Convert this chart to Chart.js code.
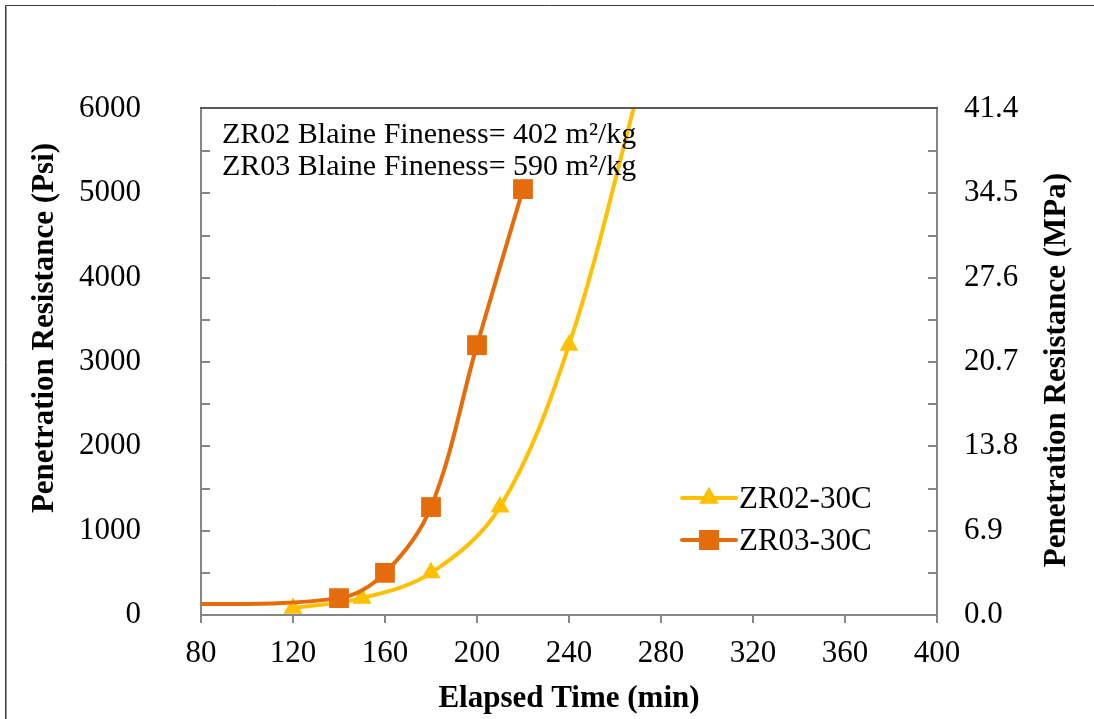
<!DOCTYPE html>
<html lang="en">
<head>
    <meta charset="UTF-8">
    <title>Penetration Resistance vs Elapsed Time</title>
    <style>
        html, body { margin: 0; padding: 0; background: #fff; }
        #chartContainer { position: relative; width: 1094px; height: 719px; }
    </style>
</head>
<body>
    <div id="chartContainer">
        <canvas id="myChart"></canvas>
    </div>
    <script src="https://cdn.jsdelivr.net/npm/chart.js"></script>
    <script>
        // Measured penetration resistance (psi) against elapsed time (min)
        var zr02Time = [120, 150, 180, 210, 240, 270];
        var zr02Psi = [80, 200, 500, 1280, 3200, 6200];
        var zr03Time = [60, 140, 160, 180, 200, 220];
        var zr03Psi = [120, 200, 500, 1280, 3200, 5050];

        var seriesNames = ['ZR02-30C', 'ZR03-30C'];
        var notes = ['ZR02 Blaine Fineness= 402 m\u00b2/kg', 'ZR03 Blaine Fineness= 590 m\u00b2/kg'];

        var timeTicks = [80, 120, 160, 200, 240, 280, 320, 360, 400];
        var psiTicks = [0, 1000, 2000, 3000, 4000, 5000, 6000];
        var mpaTicks = [0, 6.9, 13.8, 20.7, 27.6, 34.5, 41.4];

        var yellow = '#FFC000';
        var orange = '#E46C0A';
        var axisGray = '#868686';
        var serif = 'Liberation Serif, Times New Roman, serif';

        function toPoints(xs, ys) {
            return xs.map(function (x, i) { return {x: x, y: ys[i]}; });
        }

        // extra drawing: frame, plot top border, inner ticks, notes, legend, y titles
        var decorations = {
            id: 'decorations',
            beforeDatasetsDraw: function (chart) {
                var ctx = chart.ctx;
                var area = chart.chartArea;
                var yl = chart.scales.y;
                ctx.save();
                ctx.strokeStyle = axisGray;
                ctx.lineWidth = 2;
                for (var v = 500; v < 6000; v += 500) {
                    var py = Math.round(yl.getPixelForValue(v));
                    ctx.beginPath();
                    ctx.moveTo(area.left, py);
                    ctx.lineTo(area.left + 9, py);
                    ctx.moveTo(area.right, py);
                    ctx.lineTo(area.right - 9, py);
                    ctx.stroke();
                }
                ctx.strokeStyle = '#595959';
                ctx.beginPath();
                ctx.moveTo(area.left - 1, area.top - 1);
                ctx.lineTo(area.right + 1, area.top - 1);
                ctx.stroke();
                ctx.restore();
            },
            afterDraw: function (chart) {
                var ctx = chart.ctx;
                ctx.save();

                // outer frame
                ctx.strokeStyle = '#3a3a3a';
                ctx.lineWidth = 1;
                ctx.beginPath();
                ctx.moveTo(5.5, 719);
                ctx.lineTo(5.5, 5.5);
                ctx.lineTo(1094, 5.5);
                ctx.stroke();
                ctx.strokeStyle = '#9a9a9a';
                ctx.beginPath();
                ctx.moveTo(6.5, 719);
                ctx.lineTo(6.5, 6.5);
                ctx.stroke();

                // notes
                ctx.fillStyle = '#000';
                ctx.font = '30px ' + serif;
                ctx.textAlign = 'left';
                ctx.textBaseline = 'alphabetic';
                ctx.fillText(notes[0], 222, 143);
                ctx.fillText(notes[1], 222, 175);

                // legend
                var rows = [
                    {y: 498, color: yellow, style: 'triangle', radius: 11, name: seriesNames[0]},
                    {y: 540, color: orange, style: 'rect', radius: 14, name: seriesNames[1]}
                ];
                rows.forEach(function (r) {
                    ctx.strokeStyle = r.color;
                    ctx.lineWidth = 4;
                    ctx.lineCap = 'round';
                    ctx.beginPath();
                    ctx.moveTo(682, r.y);
                    ctx.lineTo(736, r.y);
                    ctx.stroke();
                    ctx.fillStyle = r.color;
                    ctx.lineWidth = 0;
                    Chart.helpers.drawPoint(ctx, {pointStyle: r.style, radius: r.radius, borderWidth: 0, rotation: 0}, 709, r.y);
                    ctx.fill();
                    ctx.fillStyle = '#000';
                    ctx.font = '31px ' + serif;
                    ctx.fillText(r.name, 739, r.y + 10);
                });

                // y axis titles, both reading bottom to top
                ctx.font = 'bold 31px ' + serif;
                ctx.textAlign = 'center';
                ctx.textBaseline = 'middle';
                ctx.translate(45, 328);
                ctx.rotate(-Math.PI / 2);
                ctx.fillText('Penetration Resistance (Psi)', 0, 0);
                ctx.setTransform(1, 0, 0, 1, 0, 0);
                ctx.translate(1057, 370);
                ctx.rotate(-Math.PI / 2);
                ctx.fillText('Penetration Resistance (MPa)', 0, 0);
                ctx.restore();
            }
        };

        var ctx = document.getElementById('myChart').getContext('2d');
        var myChart = new Chart(ctx, {
            type: 'line',
            data: {
                datasets: [{
                    label: seriesNames[0],
                    data: toPoints(zr02Time, zr02Psi),
                    borderColor: yellow,
                    backgroundColor: yellow,
                    borderWidth: 4,
                    pointStyle: 'triangle',
                    pointRadius: 11,
                    pointBorderWidth: 0,
                    tension: 0.35,
                    order: 1
                }, {
                    label: seriesNames[1],
                    data: toPoints(zr03Time, zr03Psi),
                    borderColor: orange,
                    backgroundColor: orange,
                    borderWidth: 4,
                    pointStyle: 'rect',
                    pointRadius: 14,
                    pointBorderWidth: 0,
                    tension: 0.35,
                    order: 0
                }]
            },
            options: {
                responsive: true,
                maintainAspectRatio: false,
                animation: false,
                layout: { padding: { left: 0, right: 0, top: 109, bottom: 0 } },
                plugins: {
                    legend: { display: false },
                    tooltip: { enabled: false }
                },
                scales: {
                    x: {
                        type: 'linear',
                        min: 80,
                        max: 400,
                        afterFit: function (scale) { scale.height = 104; },
                        afterBuildTicks: function (scale) {
                            scale.ticks = timeTicks.map(function (v) { return {value: v}; });
                        },
                        grid: {
                            drawOnChartArea: false,
                            drawTicks: true,
                            tickLength: 8,
                            color: axisGray,
                            lineWidth: 2
                        },
                        border: { color: axisGray, width: 2 },
                        ticks: {
                            padding: 12,
                            color: '#000',
                            font: { family: serif, size: 31 },
                            maxRotation: 0,
                            callback: function (v) { return String(v); }
                        },
                        title: {
                            display: true,
                            text: 'Elapsed Time (min)',
                            color: '#000',
                            font: { family: serif, size: 31, weight: 'bold' },
                            padding: { top: 0, bottom: 1 }
                        }
                    },
                    y: {
                        type: 'linear',
                        position: 'left',
                        min: 0,
                        max: 6000,
                        afterFit: function (scale) { scale.width = 201; },
                        afterBuildTicks: function (scale) {
                            scale.ticks = psiTicks.map(function (v) { return {value: v}; });
                        },
                        grid: { display: false },
                        border: { color: axisGray, width: 2 },
                        ticks: {
                            padding: 52,
                            color: '#000',
                            font: { family: serif, size: 31 },
                            callback: function (v) { return String(v); }
                        }
                    },
                    y2: {
                        type: 'linear',
                        position: 'right',
                        min: 0,
                        max: 41.4,
                        afterFit: function (scale) { scale.width = 157; },
                        afterBuildTicks: function (scale) {
                            scale.ticks = mpaTicks.map(function (v) { return {value: v}; });
                        },
                        grid: { display: false },
                        border: { color: axisGray, width: 2 },
                        ticks: {
                            padding: 19,
                            color: '#000',
                            font: { family: serif, size: 31 },
                            callback: function (v) { return Number(v).toFixed(1); }
                        }
                    }
                }
            },
            plugins: [decorations]
        });
    </script>
</body>
</html>
